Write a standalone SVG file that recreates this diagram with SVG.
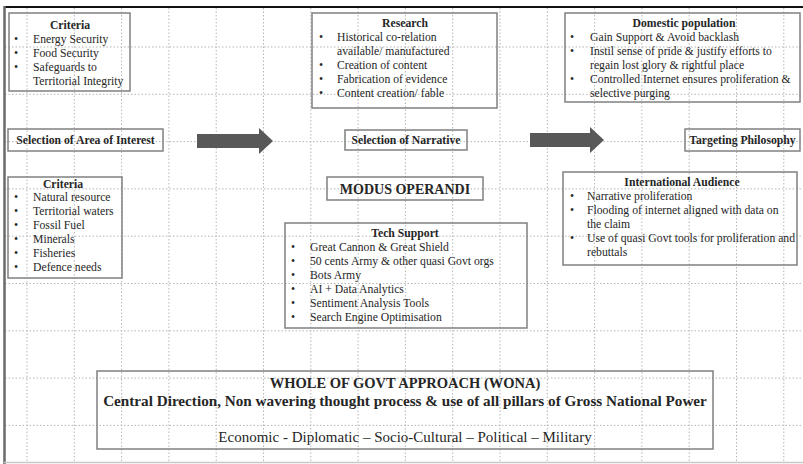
<svg xmlns="http://www.w3.org/2000/svg" width="803" height="464" viewBox="0 0 803 464">
  <style>
    .grid { fill: none; stroke: #b5b5b5; stroke-width: 1; stroke-dasharray: 1.5 2; }
    .box { fill: none; stroke: #808080; stroke-width: 1.5; }
    .t { font-family: "Liberation Serif", "Times New Roman", serif; font-size: 11.7px; fill: #262626; }
    .b { font-weight: bold; }
    .c { text-anchor: middle; }
    .arrow { fill: #585858; }
  </style>

  <rect x="0" y="0" width="803" height="464" fill="#ffffff"/>

  <!-- dotted background grid -->
  <g id="grid" class="grid">
    <path d="M27 8V462 M74.3 8V462 M121.6 8V462 M168.9 8V462 M216.2 8V462 M263.5 8V462 M310.8 8V462 M358.1 8V462 M405.4 8V462 M452.7 8V462 M500 8V462 M547.3 8V462 M594.6 8V462 M641.9 8V462 M689.2 8V462 M736.5 8V462 M783.8 8V462"/>
    <path d="M5 47H803 M5 94.3H803 M5 141.6H803 M5 188.9H803 M5 236.2H803 M5 283.5H803 M5 330.8H803 M5 378.1H803 M5 425.4H803"/>
  </g>

  <!-- page frame -->
  <g id="frame">
    <line x1="4" y1="7" x2="803" y2="7" stroke="#111" stroke-width="2"/>
    <line x1="4.5" y1="6" x2="4.5" y2="464" stroke="#6a6a6a" stroke-width="2.5"/>
    <line x1="4" y1="462.5" x2="803" y2="462.5" stroke="#c8c8c8" stroke-width="1.5"/>
  </g>

  <!-- block arrows -->
  <g id="connectors">
    <polygon class="arrow" points="197,134 259,134 259,128 273,141 259,154 259,148 197,148"/>
    <polygon class="arrow" points="530,133 590,133 590,127 604,140 590,153 590,147 530,147"/>
  </g>

  <g id="criteria-top">
    <rect class="box" x="9" y="13" width="121" height="78"/>
    <text class="t b c" x="70" y="29">Criteria</text>
    <text class="t" x="14" y="43">•</text><text class="t" x="33" y="43">Energy Security</text>
    <text class="t" x="14" y="57">•</text><text class="t" x="33" y="57">Food Security</text>
    <text class="t" x="14" y="71">•</text><text class="t" x="33" y="71">Safeguards to</text>
    <text class="t" x="33" y="85">Territorial Integrity</text>
  </g>

  <g id="research">
    <rect class="box" x="312" y="13" width="185" height="95"/>
    <text class="t b c" x="405" y="27">Research</text>
    <text class="t" x="319" y="41">•</text><text class="t" x="337" y="41">Historical  co-relation</text>
    <text class="t" x="337" y="55">available/ manufactured</text>
    <text class="t" x="319" y="69">•</text><text class="t" x="337" y="69">Creation of content</text>
    <text class="t" x="319" y="83">•</text><text class="t" x="337" y="83">Fabrication of evidence</text>
    <text class="t" x="319" y="97">•</text><text class="t" x="337" y="97">Content creation/ fable</text>
  </g>

  <g id="domestic">
    <rect class="box" x="565" y="13" width="235" height="89"/>
    <text class="t b c" x="684" y="27">Domestic population</text>
    <text class="t" x="570" y="41">•</text><text class="t" x="590" y="41">Gain Support &amp; Avoid backlash</text>
    <text class="t" x="570" y="55">•</text><text class="t" x="590" y="55">Instil sense of pride &amp; justify efforts to</text>
    <text class="t" x="590" y="69">regain lost glory &amp; rightful place</text>
    <text class="t" x="570" y="83">•</text><text class="t" x="590" y="83">Controlled Internet ensures proliferation &amp;</text>
    <text class="t" x="590" y="97">selective purging</text>
  </g>

  <g id="area-of-interest">
    <rect class="box" x="8" y="129" width="155" height="22"/>
    <text class="t b c" x="85.5" y="144">Selection of Area of Interest</text>
  </g>

  <g id="narrative">
    <rect class="box" x="345" y="130" width="122" height="20"/>
    <text class="t b c" x="406" y="144">Selection of Narrative</text>
  </g>

  <g id="targeting">
    <rect class="box" x="685" y="129" width="115" height="22"/>
    <text class="t b c" x="742.5" y="144">Targeting Philosophy</text>
  </g>

  <g id="modus-operandi">
    <rect class="box" x="327" y="177" width="156" height="23"/>
    <text class="t b c" x="405" y="194" style="font-size:14px">MODUS OPERANDI</text>
  </g>

  <g id="criteria-bottom">
    <rect class="box" x="8" y="177" width="114" height="101"/>
    <text class="t b c" x="63" y="188">Criteria</text>
    <text class="t" x="14" y="201">•</text><text class="t" x="33" y="201">Natural resource</text>
    <text class="t" x="14" y="215">•</text><text class="t" x="33" y="215">Territorial waters</text>
    <text class="t" x="14" y="229">•</text><text class="t" x="33" y="229">Fossil Fuel</text>
    <text class="t" x="14" y="243">•</text><text class="t" x="33" y="243">Minerals</text>
    <text class="t" x="14" y="257">•</text><text class="t" x="33" y="257">Fisheries</text>
    <text class="t" x="14" y="271">•</text><text class="t" x="33" y="271">Defence needs</text>
  </g>

  <g id="tech-support">
    <rect class="box" x="285" y="223" width="242" height="105"/>
    <text class="t b c" x="405" y="237">Tech Support</text>
    <text class="t" x="291" y="251">•</text><text class="t" x="310" y="251">Great Cannon &amp; Great Shield</text>
    <text class="t" x="291" y="265">•</text><text class="t" x="310" y="265">50 cents Army &amp; other quasi Govt orgs</text>
    <text class="t" x="291" y="279">•</text><text class="t" x="310" y="279">Bots Army</text>
    <text class="t" x="291" y="293">•</text><text class="t" x="310" y="293">AI + Data Analytics</text>
    <text class="t" x="291" y="307">•</text><text class="t" x="310" y="307">Sentiment Analysis Tools</text>
    <text class="t" x="291" y="321">•</text><text class="t" x="310" y="321">Search Engine Optimisation</text>
  </g>

  <g id="international">
    <rect class="box" x="563" y="172" width="234" height="93"/>
    <text class="t b c" x="682" y="186">International Audience</text>
    <text class="t" x="570" y="200">•</text><text class="t" x="587" y="200">Narrative proliferation</text>
    <text class="t" x="570" y="214">•</text><text class="t" x="587" y="214">Flooding of internet aligned with data on</text>
    <text class="t" x="587" y="228">the claim</text>
    <text class="t" x="570" y="242">•</text><text class="t" x="587" y="242">Use of quasi Govt tools for proliferation and</text>
    <text class="t" x="587" y="256">rebuttals</text>
  </g>

  <g id="wona">
    <rect class="box" x="97" y="371" width="616" height="78"/>
    <text class="t b c" x="405" y="388" style="font-size:14.5px">WHOLE OF GOVT APPROACH (WONA)</text>
    <text class="t b c" x="405" y="406" style="font-size:15.2px">Central Direction, Non wavering thought process &amp; use of all pillars of Gross National Power</text>
    <text class="t c" x="405" y="442" style="font-size:15px">Economic -  Diplomatic – Socio-Cultural – Political – Military</text>
  </g>
</svg>
